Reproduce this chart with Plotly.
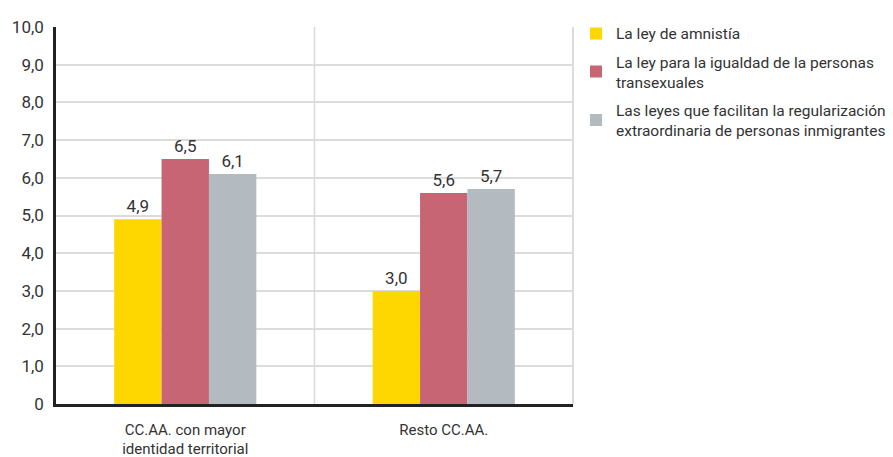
import plotly.graph_objects as go

# Datos
categorias = ["CC.AA. con mayor<br>identidad territorial", "Resto CC.AA."]
series = [
    "La ley de amnistía",
    "La ley para la igualdad de la personas<br>transexuales",
    "Las leyes que facilitan la regularización<br>extraordinaria de personas inmigrantes",
]
valores = [
    [4.9, 3.0],
    [6.5, 5.6],
    [6.1, 5.7],
]
colores = ["#FFD700", "#C76575", "#B3BBC1"]
ticks_y = [0, 1, 2, 3, 4, 5, 6, 7, 8, 9, 10]
etiquetas_y = ["0", "1,0", "2,0", "3,0", "4,0", "5,0", "6,0", "7,0", "8,0", "9,0", "10,0"]

FUENTE = "Roboto, Noto Sans, sans-serif"
TEXTO = "#333333"

fig = go.Figure()
for i, (nombre, vals, color) in enumerate(zip(series, valores, colores)):
    fig.add_trace(go.Bar(
        x=categorias, y=vals, name=nombre, legendgroup=f"g{i}",
        marker=dict(color=color, line=dict(width=0)),
        texttemplate="%{y:.1f}", textposition="outside",
        textfont=dict(size=17, color=TEXTO, family=FUENTE),
        cliponaxis=False,
    ))

# Separador entre categorías y borde derecho
fig.add_shape(type="line", xref="x", yref="paper", x0=0.5, x1=0.5, y0=0, y1=1,
              line=dict(color="#D9D9D9", width=1.5), layer="below")
fig.add_shape(type="line", xref="paper", yref="paper", x0=1, x1=1, y0=0, y1=1,
              line=dict(color="#D0D0D0", width=1.5), layer="below")

fig.update_layout(
    width=893, height=457,
    margin=dict(l=56, r=320, t=27, b=53, autoexpand=False),
    paper_bgcolor="white", plot_bgcolor="white",
    barmode="group", bargap=0.45, bargroupgap=0,
    separators=",.",
    font=dict(family=FUENTE, size=14, color=TEXTO),
    showlegend=True,
    legend=dict(
        x=1.0058, y=1.027, xanchor="left", yanchor="top",
        font=dict(size=15.5, color=TEXTO, family=FUENTE),
        itemsizing="constant", tracegroupgap=5,
        bgcolor="rgba(0,0,0,0)",
    ),
    xaxis=dict(
        range=[-0.5, 1.5], showgrid=False, showline=True,
        linecolor="#222222", linewidth=2.5, ticks="",
        tickfont=dict(size=15, color=TEXTO), ticklabelstandoff=10,
        automargin=False,
    ),
    yaxis=dict(
        range=[0, 10], tickvals=ticks_y, ticktext=etiquetas_y,
        showgrid=True, gridcolor="#DCDCDC", gridwidth=1.5,
        showline=True, linecolor="#222222", linewidth=2.5,
        ticks="", ticklabelstandoff=6, zeroline=False,
        tickfont=dict(size=17, color=TEXTO), automargin=False,
    ),
)

fig.write_html("out.html")
